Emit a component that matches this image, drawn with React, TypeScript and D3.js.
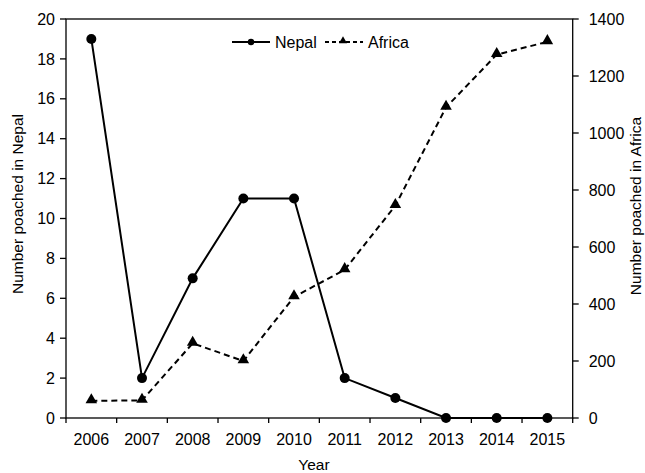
import React from "react";
import * as d3 from "d3";

const years = ["2006", "2007", "2008", "2009", "2010", "2011", "2012", "2013", "2014", "2015"];
const nepal = [19, 2, 7, 11, 11, 2, 1, 0, 0, 0];
const africa = [60, 62, 262, 200, 425, 520, 745, 1090, 1275, 1320];
const leftTicks = [0, 2, 4, 6, 8, 10, 12, 14, 16, 18, 20];
const rightTicks = [0, 200, 400, 600, 800, 1000, 1200, 1400];

const W = 645, H = 473;
const L = 66, R = 572.7, T = 19, B = 418;
const font = "'Liberation Sans', Arial, sans-serif";

export default function App() {
  const x = d3.scaleBand<string>().domain(years).range([L, R]);
  const yL = d3.scaleLinear().domain([0, 20]).range([B, T]);
  const yR = d3.scaleLinear().domain([0, 1400]).range([B, T]);
  const cx = (d: string) => (x(d) as number) + x.bandwidth() / 2;
  const lineN = d3.line<number>().x((_, i) => cx(years[i])).y((d) => yL(d));
  const lineA = d3.line<number>().x((_, i) => cx(years[i])).y((d) => yR(d));
  const tri = d3.symbol().type(d3.symbolTriangle).size(58);
  const triSmall = d3.symbol().type(d3.symbolTriangle).size(28);
  const edges = years.map((y) => x(y) as number).concat([R]);
  return (
    <svg width={W} height={H} style={{ position: "absolute", left: 0, top: 0 }} fontFamily={font}>
      <rect width={W} height={H} fill="#fff" />
      <path d={lineA(africa) || ""} fill="none" stroke="#000" strokeWidth={2} strokeDasharray="6,4" />
      <path d={lineN(nepal) || ""} fill="none" stroke="#000" strokeWidth={2} />
      {africa.map((d, i) => (
        <path key={"a" + i} d={tri() || ""} transform={`translate(${cx(years[i])},${yR(d) - 1})`} fill="#000" />
      ))}
      {nepal.map((d, i) => (
        <circle key={"n" + i} cx={cx(years[i])} cy={yL(d)} r={5} fill="#000" />
      ))}
      <rect x={L} y={T} width={R - L} height={B - T} fill="none" stroke="#000" strokeWidth={1.3} />
      {leftTicks.map((t) => (
        <g key={"l" + t}>
          <line x1={L - 6} x2={L} y1={yL(t)} y2={yL(t)} stroke="#000" strokeWidth={1.3} />
          <text x={L - 11} y={yL(t)} dy="0.35em" textAnchor="end" fontSize={16}>{t}</text>
        </g>
      ))}
      {rightTicks.map((t) => (
        <g key={"r" + t}>
          <line x1={R} x2={R + 6} y1={yR(t)} y2={yR(t)} stroke="#000" strokeWidth={1.3} />
          <text x={R + 16} y={yR(t)} dy="0.35em" textAnchor="start" fontSize={16}>{t}</text>
        </g>
      ))}
      {edges.map((e, i) => (
        <line key={"b" + i} x1={e} x2={e} y1={B} y2={B + 5} stroke="#000" strokeWidth={1.3} />
      ))}
      {years.map((y) => (
        <text key={"x" + y} x={cx(y)} y={B + 27} textAnchor="middle" fontSize={16}>{y}</text>
      ))}
      <text x={314} y={470} textAnchor="middle" fontSize={15.5}>Year</text>
      <text transform={`translate(23,204) rotate(-90)`} textAnchor="middle" fontSize={15.5}>Number poached in Nepal</text>
      <text transform={`translate(641,206) rotate(-90)`} textAnchor="middle" fontSize={15.5}>Number poached in Africa</text>
      <g>
        <line x1={232} x2={270} y1={42} y2={42} stroke="#000" strokeWidth={2} />
        <circle cx={251} cy={42} r={3.2} fill="#000" />
        <text x={275} y={42} dy="0.35em" fontSize={16}>Nepal</text>
        <line x1={325} x2={363} y1={42} y2={42} stroke="#000" strokeWidth={2} strokeDasharray="4,3" />
        <path d={triSmall() || ""} transform={`translate(343,41)`} fill="#000" />
        <text x={368} y={42} dy="0.35em" fontSize={16}>Africa</text>
      </g>
    </svg>
  );
}
